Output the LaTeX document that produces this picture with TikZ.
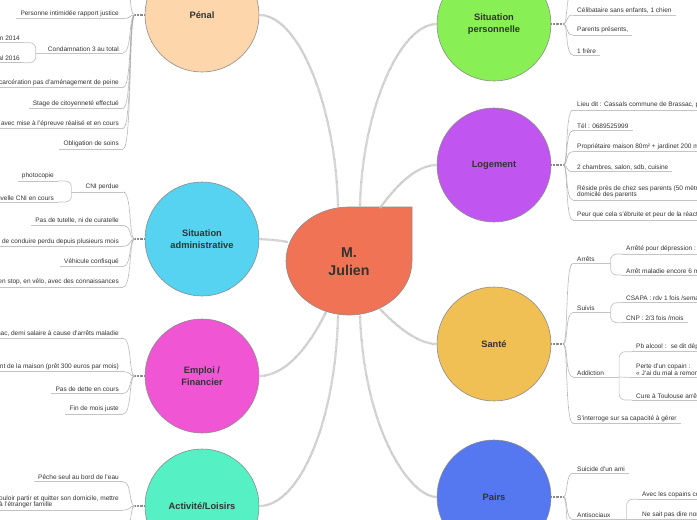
\documentclass[tikz,border=0pt]{standalone}
\usepackage{fontspec}
\setmainfont{Liberation Sans}

\definecolor{inktext}{HTML}{333333}
\definecolor{rimgray}{HTML}{8C8C8C}
\definecolor{ulinegray}{HTML}{C4C4C4}
\definecolor{twiggray}{HTML}{A8A8A8}
\definecolor{stubgray}{HTML}{8A8A8A}
\definecolor{branchgray}{HTML}{C4C4C4}
\definecolor{rootfill}{HTML}{F07355}
\definecolor{penalfill}{HTML}{FDD6AC}
\definecolor{adminfill}{HTML}{55D3F0}
\definecolor{emploifill}{HTML}{F055D3}
\definecolor{loisirfill}{HTML}{55F0C3}
\definecolor{persofill}{HTML}{88F055}
\definecolor{logefill}{HTML}{C055F0}
\definecolor{santefill}{HTML}{F0C055}
\definecolor{pairsfill}{HTML}{5577F0}

\tikzset{
  topic/.style={circle, draw=rimgray, line width=0.6pt, minimum size=114pt, inner sep=0pt,
    align=center, text=inktext, font=\fontsize{9.3}{11.5}\selectfont\bfseries},
  leaf/.style={inner xsep=4pt, inner ysep=1.5pt, align=left, text=inktext,
    font=\fontsize{6.5}{6.8}\selectfont},
  uline/.style={draw=ulinegray, line width=0.7pt},
  twig/.style={draw=twiggray, line width=0.7pt, dash pattern=on 0.6pt off 0.5pt},
  stub/.style={draw=stubgray, line width=2pt, dash pattern=on 1pt off 0.4pt},
  branch/.style={draw=branchgray, line width=2.3pt, dash pattern=on 0.6pt off 0.5pt},
}

\begin{document}
\begin{tikzpicture}[x=1pt,y=1pt,yscale=-1,xscale=1]
\useasboundingbox (0,0) rectangle (697,520);

% Centre
\draw [fill=rootfill, draw=rimgray, line width=0.6pt] (412,207) -- (349,207) .. controls (314.2,207) and (286,231.2) .. (286,261) .. controls (286,290.8) and (314.2,315) .. (349,315) .. controls (383.8,315) and (412,290.8) .. (412,261) -- cycle ;
\node [text=inktext, align=center, font=\fontsize{14.2}{18}\selectfont\bfseries] (root) at (349,262) {M.\\Julien};
\coordinate (root-penal) at (338,207);
\coordinate (root-perso) at (360,207);
\coordinate (root-loge) at (380,208);
\coordinate (root-admin) at (288,242);
\coordinate (root-emploi) at (326,312);
\coordinate (root-loisir) at (338,315);
\coordinate (root-sante) at (380,309);
\coordinate (root-pairs) at (360,315);

% Topics
\node [topic, fill=penalfill] (penal) at (202,15) {Pénal};
\node [topic, fill=adminfill] (admin) at (202,239) {Situation\\administrative};
\node [topic, fill=emploifill] (emploi) at (202,376) {Emploi /\\Financier};
\node [topic, fill=loisirfill] (loisir) at (202,506) {Activité/Loisirs};
\node [topic, fill=persofill] (perso) at (494,24) {Situation\\personnelle};
\node [topic, fill=logefill] (loge) at (494,165) {Logement};
\node [topic, fill=santefill] (sante) at (494,344) {Santé};
\node [topic, fill=pairsfill] (pairs) at (494,497) {Pairs};

% Branches
\draw [branch] (root-penal) .. controls (336,110) and (300,15) .. (penal.east) ;
\draw [branch] (root-perso) .. controls (362,110) and (400,24) .. (perso.west) ;
\draw [branch] (root-loge) .. controls (396,186) and (416,165) .. (loge.west) ;
\draw [branch] (root-admin) .. controls (275,240) .. (admin.east) ;
\draw [branch] (root-emploi) .. controls (310,345) and (286,376) .. (emploi.east) ;
\draw [branch] (root-loisir) .. controls (336,420) and (300,506) .. (loisir.east) ;
\draw [branch] (root-sante) .. controls (400,330) and (420,344) .. (sante.west) ;
\draw [branch] (root-pairs) .. controls (364,430) and (410,497) .. (pairs.west) ;

% Pénal
\node [leaf, anchor=south east] (p1) at (123,18.5) {Personne intimidée rapport justice};
\node [leaf, anchor=south east] (p2) at (123,53) {Condamnation 3 au total};
\node [leaf, anchor=south east] (p2a) at (24,42.7) {n 2014};
\node [leaf, anchor=south east] (p2b) at (24,62.7) {al 2016};
\node [leaf, anchor=south east] (p3) at (123,87.5) {ncarcération pas d'aménagement de peine};
\node [leaf, anchor=south east] (p4) at (123,108.3) {Stage de citoyenneté effectué};
\node [leaf, anchor=south east] (p5) at (123,128.5) {s avec mise à l'épreuve réalisé et en cours};
\node [leaf, anchor=south east] (p6) at (123,149) {Obligation de soins};
\coordinate (penal-up) at (123,-20);

% Situation administrative
\node [leaf, anchor=south east] (a1) at (123,192) {CNI perdue};
\node [leaf, anchor=south east] (a1a) at (58,181) {photocopie};
\node [leaf, anchor=south east] (a1b) at (58,202) {uvelle CNI en cours};
\node [leaf, anchor=south east] (a2) at (123,225.5) {Pas de tutelle, ni de curatelle};
\node [leaf, anchor=south east] (a3) at (123,246.3) {s de conduire perdu depuis plusieurs mois};
\node [leaf, anchor=south east] (a4) at (123,266.5) {Véhicule confisqué};
\node [leaf, anchor=south east] (a5) at (123,287) {en stop, en vélo, avec des connaissances};

% Emploi / Financier
\node [leaf, anchor=south east] (e1) at (123,338.3) {nac, demi salaire à cause d'arrêts maladie};
\node [leaf, anchor=south east] (e2) at (123,371.7) {ent de la maison (prêt 300 euros par mois)};
\node [leaf, anchor=south east] (e3) at (123,393.3) {Pas de dette en cours};
\node [leaf, anchor=south east] (e4) at (123,414) {Fin de mois juste};

% Activité/Loisirs
\node [leaf, anchor=south east] (l1) at (123,481.7) {Pêche seul au bord de l'eau};
\node [leaf, anchor=south east] (l2) at (123,510) {ouloir partir et quitter son domicile, mettre\\à l'étranger famille};
\coordinate (loisir-down) at (123,545);

% Situation personnelle
\node [leaf, anchor=south west] (s1) at (573,15) {Célibataire sans enfants, 1 chien};
\node [leaf, anchor=south west] (s2) at (573,35) {Parents présents,};
\node [leaf, anchor=south west] (s3) at (573,55) {1 frère};
\coordinate (perso-up) at (573,-8);

% Logement
\node [leaf, anchor=south west] (g1) at (573,110) {Lieu dit : Cassals commune de Brassac, p};
\node [leaf, anchor=south west] (g2) at (573,130.7) {Tél : 0689525999};
\node [leaf, anchor=south west] (g3) at (573,151.7) {Propriétaire maison 80m² + jardinet 200 m};
\node [leaf, anchor=south west] (g4) at (573,171.7) {2 chambres, salon, sdb, cuisine};
\node [leaf, anchor=south west] (g5) at (573,200) {Réside près de chez ses parents (50 mètre\\domicile des parents};
\node [leaf, anchor=south west] (g6) at (573,220) {Peur que cela s'ébruite et peur de la réacti};

% Santé
\node [leaf, anchor=south west] (h1) at (573,263.3) {Arrêts};
\node [leaf, anchor=south west] (h1a) at (622,254) {Arrêté pour dépression : j};
\node [leaf, anchor=south west] (h1b) at (622,275) {Arrêt maladie encore 6 m};
\node [leaf, anchor=south west] (h2) at (573,312.5) {Suivis};
\node [leaf, anchor=south west] (h2a) at (622,302.7) {CSAPA : rdv 1 fois /semai};
\node [leaf, anchor=south west] (h2b) at (622,322.7) {CNP : 2/3 fois /mois};
\node [leaf, anchor=south west] (h3) at (573,377) {Addiction};
\node [leaf, anchor=south west] (h3a) at (632,351.7) {Pb alcool : \ se dit dépe};
\node [leaf, anchor=south west] (h3b) at (632,377.5) {Perte d'un copain :\\« J'ai du mal a remont};
\node [leaf, anchor=south west] (h3c) at (632,400) {Cure à Toulouse arrêt};
\node [leaf, anchor=south west] (h4) at (573,423.3) {S'interroge sur sa capacité à gérer};

% Pairs
\node [leaf, anchor=south west] (r1) at (573,473.3) {Suicide d'un ami};
\node [leaf, anchor=south west] (r2) at (573,519.5) {Antisociaux};
\node [leaf, anchor=south west] (r2a) at (638,499.3) {Avec les copains co};
\node [leaf, anchor=south west] (r2b) at (638,519.5) {Ne sait pas dire non};
\coordinate (pairs-down) at (573,545);

% Underlines
\foreach \leaf in {p1,p2,p2a,p2b,p3,p4,p5,p6,a1,a1a,a1b,a2,a3,a4,a5,e1,e2,e3,e4,l1,l2,s1,s2,s3,g1,g2,g3,g4,g5,g6,h1,h1a,h1b,h2,h2a,h2b,h3,h3a,h3b,h3c,h4,r1,r2,r2a,r2b}
  \draw [uline] (\leaf.south west) -- (\leaf.south east) ;

% Hubs
\draw [stub] (penal.west) -- ++(-10,0) coordinate (penal-hub) ;
\draw [stub] (admin.west) -- ++(-10,0) coordinate (admin-hub) ;
\draw [stub] (emploi.west) -- ++(-10,0) coordinate (emploi-hub) ;
\draw [stub] (loisir.west) -- ++(-10,0) coordinate (loisir-hub) ;
\draw [stub] (perso.east) -- ++(12,0) coordinate (perso-hub) ;
\draw [stub] (loge.east) -- ++(12,0) coordinate (loge-hub) ;
\draw [stub] (sante.east) -- ++(12,0) coordinate (sante-hub) ;
\draw [stub] (pairs.east) -- ++(12,0) coordinate (pairs-hub) ;

% Twigs
\foreach \leaf in {penal-up,p1,p2,p3,p4,p5,p6}
  \draw [twig] (penal-hub) .. controls +(-6,0) and +(9,0) .. (\leaf.south east) ;
\foreach \leaf in {a1,a2,a3,a4,a5}
  \draw [twig] (admin-hub) .. controls +(-6,0) and +(9,0) .. (\leaf.south east) ;
\foreach \leaf in {e1,e2,e3,e4}
  \draw [twig] (emploi-hub) .. controls +(-6,0) and +(9,0) .. (\leaf.south east) ;
\foreach \leaf in {l1,l2,loisir-down}
  \draw [twig] (loisir-hub) .. controls +(-6,0) and +(9,0) .. (\leaf.south east) ;
\foreach \leaf in {perso-up,s1,s2,s3}
  \draw [twig] (perso-hub) .. controls +(5,0) and +(-8,0) .. (\leaf.south west) ;
\foreach \leaf in {g1,g2,g3,g4,g5,g6}
  \draw [twig] (loge-hub) .. controls +(5,0) and +(-8,0) .. (\leaf.south west) ;
\foreach \leaf in {h1,h2,h3,h4}
  \draw [twig] (sante-hub) .. controls +(5,0) and +(-8,0) .. (\leaf.south west) ;
\foreach \leaf in {r1,r2,pairs-down}
  \draw [twig] (pairs-hub) .. controls +(5,0) and +(-8,0) .. (\leaf.south west) ;

% Sub-brackets
\draw [uline] (p2.south west) -- ++(-8,0) coordinate (p2-hub) ;
\draw [uline, rounded corners=6pt] (p2a.south east) -| (p2-hub) |- (p2b.south east) ;
\draw [uline] (a1.south west) -- ++(-10,0) coordinate (a1-hub) ;
\draw [uline, rounded corners=6pt] (a1a.south east) -| (a1-hub) |- (a1b.south east) ;
\draw [uline] (h1.south east) -- ++(12,0) coordinate (h1-hub) ;
\draw [uline, rounded corners=6pt] (h1a.south west) -| (h1-hub) |- (h1b.south west) ;
\draw [uline] (h2.south east) -- ++(12,0) coordinate (h2-hub) ;
\draw [uline, rounded corners=6pt] (h2a.south west) -| (h2-hub) |- (h2b.south west) ;
\draw [uline] (h3.south east) -- ++(11,0) coordinate (h3-hub) ;
\draw [uline, rounded corners=6pt] (h3a.south west) -| (h3-hub) |- (h3c.south west) ;
\draw [uline] (h3-hub) -- (h3b.south west) ;
\draw [uline] (r2.south east) -- ++(12,0) coordinate (r2-hub) ;
\draw [uline, rounded corners=6pt] (r2a.south west) -| (r2-hub) -- ++(0,15) ;
\draw [uline] (r2-hub) -- (r2b.south west) ;

\end{tikzpicture}
\end{document}
